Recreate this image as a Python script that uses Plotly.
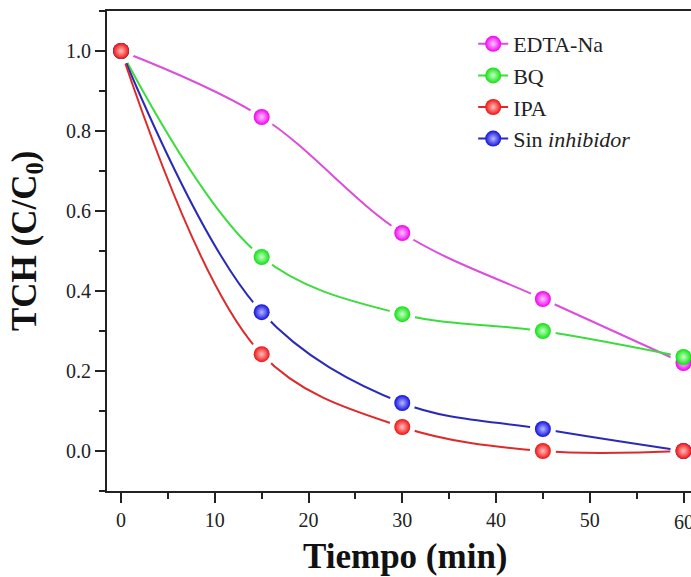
import plotly.graph_objects as go

# ---- data ----
tiempo = [0, 15, 30, 45, 60]
edta = [1.0, 0.835, 0.545, 0.38, 0.22]
bq = [1.0, 0.485, 0.342, 0.30, 0.235]
ipa = [1.0, 0.242, 0.06, 0.0, 0.0]
sin_inh = [1.0, 0.347, 0.12, 0.055, 0.0]
last_tick = 60

series = [
    # name, values, line colour, marker colour, highlight, legend rank
    ("EDTA-Na", edta, "#dc4ddc", "#f000f0", "#ffc8ff", 1),
    ("BQ", bq, "#3ddc3d", "#10e010", "#c8ffc8", 2),
    ("Sin <i>inhibidor</i>", sin_inh, "#2a2ab8", "#1010e0", "#b8b8ff", 4),
    ("IPA", ipa, "#dd2a2a", "#f01010", "#ffc0c0", 3),
]

FONT = "Times New Roman, Liberation Serif, serif"
fig = go.Figure()

# lines
for name, vals, lc, mc, hc, rk in series:
    fig.add_trace(go.Scatter(x=tiempo, y=vals, mode="lines", showlegend=False,
                             line=dict(color=lc, width=2, shape="spline", smoothing=1.0),
                             hoverinfo="skip"))
# white halos (gaps around markers) + markers
for name, vals, lc, mc, hc, rk in series:
    fig.add_trace(go.Scatter(x=tiempo, y=vals, mode="markers", showlegend=False,
                             marker=dict(size=26, color="white", line=dict(width=0)),
                             hoverinfo="skip", cliponaxis=False))
for name, vals, lc, mc, hc, rk in series:
    fig.add_trace(go.Scatter(x=tiempo, y=vals, mode="markers", showlegend=False,
                             marker=dict(size=16, color=mc, line=dict(width=0),
                                         gradient=dict(type="radial", color=hc)),
                             cliponaxis=False))
# legend entries
for name, vals, lc, mc, hc, rk in series:
    fig.add_trace(go.Scatter(x=[None], y=[None], mode="lines+markers", name=name,
                             legendrank=rk,
                             line=dict(color=lc, width=2),
                             marker=dict(size=16, color=mc, line=dict(width=0),
                                         gradient=dict(type="radial", color=hc))))

axis_common = dict(
    showline=True, linecolor="#222", linewidth=2,
    ticks="outside", ticklen=10, tickwidth=2, tickcolor="#222",
    showgrid=False, zeroline=False,
    tickfont=dict(family=FONT, size=20, color="#222"),
)
fig.update_xaxes(range=[-1.5, 60.8], tick0=0, dtick=10, mirror=True,
                 minor=dict(ticks="outside", ticklen=6, tickwidth=2, tickcolor="#222", dtick=5, tick0=0),
                 **axis_common)
fig.update_yaxes(range=[-0.1, 1.1], tick0=0, dtick=0.2, tickformat=".1f",
                 minor=dict(ticks="outside", ticklen=6, tickwidth=2, tickcolor="#222", dtick=0.1, tick0=0),
                 **axis_common)

# the last x tick label (partly cut by the page edge in the reference)
fig.add_annotation(text=str(last_tick), x=last_tick, xref="x", y=0, yref="paper",
                   xanchor="center", yanchor="middle", yshift=-31, showarrow=False,
                   font=dict(family=FONT, size=20, color="#222"))

fig.add_annotation(text="<b>Tiempo (min)</b>", xref="paper", yref="paper", x=0.5, y=0,
                   xanchor="center", yanchor="middle", xshift=6, yshift=-65, showarrow=False,
                   font=dict(family=FONT, size=35, color="#111"))
fig.add_annotation(text="<b>TCH (C/C<sub>0</sub>)</b>", xref="paper", yref="paper", x=0, y=0.5,
                   xanchor="center", yanchor="middle", xshift=-81, yshift=10, textangle=-90,
                   showarrow=False, font=dict(family=FONT, size=35, color="#111"))

fig.update_layout(
    width=691, height=577,
    margin=dict(l=107, r=0, t=11, b=86),
    paper_bgcolor="white", plot_bgcolor="white",
    showlegend=True,
    legend=dict(x=0.627, y=0.975, xanchor="left", yanchor="top",
                bgcolor="rgba(0,0,0,0)", font=dict(family=FONT, size=22, color="#222"),
                tracegroupgap=0),
)
fig.write_html("out.html")
